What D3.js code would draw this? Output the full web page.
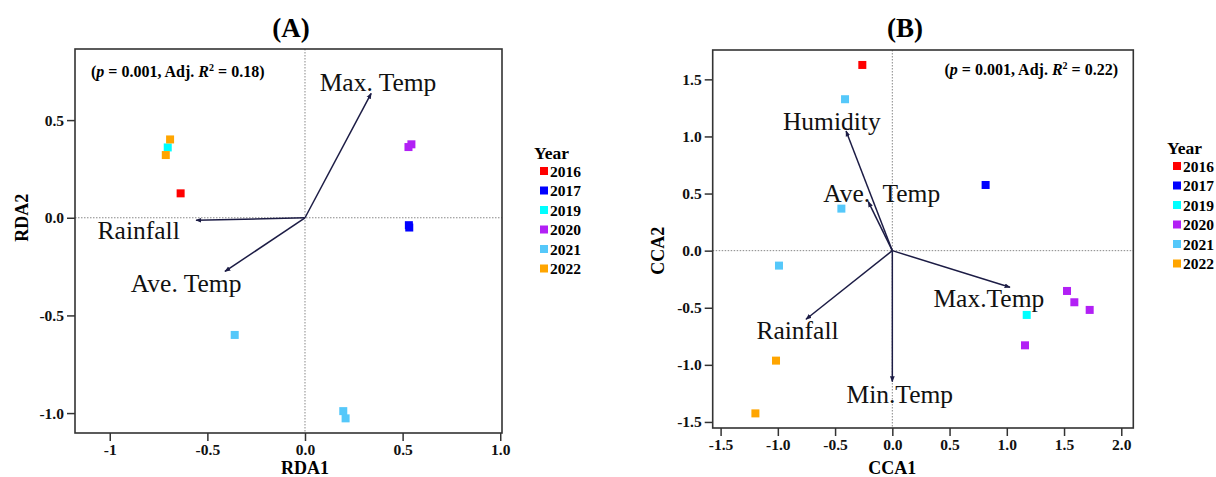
<!DOCTYPE html>
<html>
<head>
<meta charset="utf-8">
<script src="https://cdn.jsdelivr.net/npm/d3@7"></script>
<style>
  body { margin: 0; background: #fff; }
  svg { display: block; font-family: "Liberation Serif", "Times New Roman", serif; }
</style>
</head>
<body>
<svg></svg>
<script>
// ---- data ----
const years = ["2016", "2017", "2019", "2020", "2021", "2022"];
const yearColors = ["#ff0000", "#0000ff", "#00ffff", "#b220f5", "#55c8fa", "#ffa500"];

// (A) RDA site scores
const rdaYear = ["2016", "2017", "2017", "2019", "2020", "2020", "2021", "2021", "2021", "2022", "2022"];
const rdaX = [-0.637, 0.532, 0.534, -0.703, 0.530, 0.545, -0.36, 0.196, 0.208, -0.691, -0.713];
const rdaY = [0.125, -0.038, -0.050, 0.360, 0.362, 0.376, -0.60, -0.990, -1.027, 0.401, 0.321];
// (A) environmental vectors
const rdaVars = ["Max. Temp", "Rainfall", "Ave. Temp"];
const rdaVarX = [0.339, -0.558, -0.41];
const rdaVarY = [0.637, -0.013, -0.275];
const rdaLabX = [0.374, -0.852, -0.609];
const rdaLabY = [0.691, -0.063, -0.336];

// (B) CCA site scores
const ccaYear = ["2016", "2017", "2019", "2020", "2020", "2020", "2020", "2021", "2021", "2021", "2022", "2022"];
const ccaX = [-0.262, 0.815, 1.174, 1.526, 1.590, 1.724, 1.159, -0.413, -0.445, -0.99, -1.016, -1.196];
const ccaY = [1.626, 0.575, -0.563, -0.353, -0.452, -0.519, -0.829, 1.326, 0.368, -0.131, -0.963, -1.425];
// (B) environmental vectors
const ccaVars = ["Humidity", "Ave.\u00a0 Temp", "Max.Temp", "Rainfall", "Min.Temp"];
const ccaVarX = [-0.404, -0.21, 1.028, -0.754, 0];
const ccaVarY = [1.048, 0.429, -0.321, -0.601, -1.147];
const ccaLabX = [-0.529, -0.093, 0.843, -0.828, 0.065];
const ccaLabY = [1.13, 0.503, -0.417, -0.703, -1.264];

// axis ticks
const rdaXTicks = [-1, -0.5, 0, 0.5, 1];
const rdaXLabels = ["-1", "-0.5", "0.0", "0.5", "1.0"];
const rdaYTicks = [0.5, 0, -0.5, -1];
const rdaYLabels = ["0.5", "0.0", "-0.5", "-1.0"];
const ccaXTicks = [-1.5, -1, -0.5, 0, 0.5, 1, 1.5, 2];
const ccaXLabels = ["-1.5", "-1.0", "-0.5", "0.0", "0.5", "1.0", "1.5", "2.0"];
const ccaYTicks = [1.5, 1, 0.5, 0, -0.5, -1, -1.5];
const ccaYLabels = ["1.5", "1.0", "0.5", "0.0", "-0.5", "-1.0", "-1.5"];

const size = { w: 1216, h: 477 };
const svg = d3.select("svg").attr("width", size.w).attr("height", size.h);

const color = d3.scaleOrdinal().domain(years).range(yearColors);

// arrow head
svg.append("defs").append("marker")
  .attr("id", "head")
  .attr("viewBox", "0 0 10 10")
  .attr("refX", 9).attr("refY", 5)
  .attr("markerWidth", 6).attr("markerHeight", 6)
  .attr("markerUnits", "userSpaceOnUse")
  .attr("orient", "auto")
  .append("path")
  .attr("d", "M0,1 L10,5 L0,9 Z")
  .attr("fill", "#1c1c45");

function drawPanel(p) {
  const g = svg.append("g");
  const x = d3.scaleLinear().domain(p.xDomain).range([p.box.l, p.box.r]);
  const y = d3.scaleLinear().domain(p.yDomain).range([p.box.b, p.box.t]);

  // title
  g.append("text")
    .attr("x", p.titleX).attr("y", 28)
    .attr("text-anchor", "middle").attr("dominant-baseline", "central")
    .style("font-size", "27px").style("font-weight", "bold")
    .text(p.title);

  // zero lines
  g.append("line")
    .attr("x1", x(0)).attr("x2", x(0)).attr("y1", p.box.t).attr("y2", p.box.b)
    .attr("stroke", "#888").attr("stroke-width", 1).attr("stroke-dasharray", "1.5,1.5");
  g.append("line")
    .attr("x1", p.box.l).attr("x2", p.box.r).attr("y1", y(0)).attr("y2", y(0))
    .attr("stroke", "#888").attr("stroke-width", 1).attr("stroke-dasharray", "1.5,1.5");

  // axes
  const xAxis = d3.axisBottom(x).tickValues(p.xTicks)
    .tickFormat((d, i) => p.xLabels[i]).tickSize(8).tickPadding(3);
  const yAxis = d3.axisLeft(y).tickValues(p.yTicks)
    .tickFormat((d, i) => p.yLabels[i]).tickSize(8).tickPadding(3);

  const xg = g.append("g").attr("transform", `translate(0,${p.box.b})`).call(xAxis);
  const yg = g.append("g").attr("transform", `translate(${p.box.l},0)`).call(yAxis);
  [xg, yg].forEach((a) => {
    a.select(".domain").remove();
    a.selectAll(".tick line").attr("stroke", "#333").attr("stroke-width", 1.5);
    a.selectAll(".tick text")
      .attr("fill", "#111")
      .style("font-family", "Liberation Serif, serif")
      .style("font-size", "15.5px").style("font-weight", "bold");
  });

  // frame
  g.append("rect")
    .attr("x", p.box.l).attr("y", p.box.t)
    .attr("width", p.box.r - p.box.l).attr("height", p.box.b - p.box.t)
    .attr("fill", "none").attr("stroke", "#333").attr("stroke-width", 1.6);

  // axis titles
  g.append("text")
    .attr("x", x(0)).attr("y", 468)
    .attr("text-anchor", "middle").attr("dominant-baseline", "central")
    .style("font-size", "18px").style("font-weight", "bold")
    .text(p.xTitle);
  g.append("text")
    .attr("transform", `translate(${p.yTitleX},${y(0)}) rotate(-90)`)
    .attr("text-anchor", "middle").attr("dominant-baseline", "central")
    .style("font-size", "18px").style("font-weight", "bold")
    .text(p.yTitle);

  // statistics note
  const note = g.append("text")
    .attr("x", p.noteX).attr("y", p.noteY)
    .attr("text-anchor", p.noteAnchor).attr("dominant-baseline", "central")
    .style("font-size", "16px").style("font-weight", "bold");
  note.append("tspan").text("(");
  note.append("tspan").style("font-style", "italic").text("p");
  note.append("tspan").text(" = 0.001, Adj. ");
  note.append("tspan").style("font-style", "italic").text("R");
  note.append("tspan").style("font-size", "10px").attr("dy", -4).text("2");
  note.append("tspan").attr("dy", 4).text(" = " + p.r2 + ")");

  // site points
  g.append("g").selectAll("rect")
    .data(p.sx.map((v, i) => ({ x: v, y: p.sy[i], year: p.year[i] })))
    .join("rect")
    .attr("x", (d) => x(d.x) - 4).attr("y", (d) => y(d.y) - 4)
    .attr("width", 8).attr("height", 8)
    .attr("fill", (d) => color(d.year));

  // vectors
  const vec = p.vars.map((v, i) => ({ name: v, x: p.vx[i], y: p.vy[i], lx: p.lx[i], ly: p.ly[i] }));
  g.append("g").selectAll("line")
    .data(vec)
    .join("line")
    .attr("x1", x(0)).attr("y1", y(0))
    .attr("x2", (d) => x(d.x)).attr("y2", (d) => y(d.y))
    .attr("stroke", "#1c1c45").attr("stroke-width", 1.5)
    .attr("marker-end", "url(#head)");
  g.append("g").selectAll("text")
    .data(vec)
    .join("text")
    .attr("x", (d) => x(d.lx)).attr("y", (d) => y(d.ly))
    .attr("text-anchor", "middle").attr("dominant-baseline", "central")
    .style("font-size", "25.5px").attr("fill", "#111")
    .text((d) => d.name);

  // legend
  const lg = g.append("g").attr("transform", `translate(${p.legX},${p.legY})`);
  lg.append("text")
    .attr("x", 0).attr("y", 0).attr("dominant-baseline", "central")
    .style("font-size", "17.5px").style("font-weight", "bold")
    .text("Year");
  const item = lg.selectAll("g.item")
    .data(years)
    .join("g").classed("item", true)
    .attr("transform", (d, i) => `translate(0,${18 + i * 19.5})`);
  item.append("rect")
    .attr("x", 6).attr("y", -4).attr("width", 8).attr("height", 8)
    .attr("fill", (d) => color(d));
  item.append("text")
    .attr("x", 16).attr("y", 0).attr("dominant-baseline", "central")
    .style("font-size", "15.5px").style("font-weight", "bold")
    .text((d) => d);
}

drawPanel({
  title: "(A)", titleX: 291,
  box: { l: 75, r: 502, t: 49, b: 433 },
  xDomain: [-1.178, 1.009], yDomain: [-1.102, 0.864],
  xTicks: rdaXTicks, xLabels: rdaXLabels, yTicks: rdaYTicks, yLabels: rdaYLabels,
  xTitle: "RDA1", yTitle: "RDA2", yTitleX: 22,
  noteX: 91, noteY: 71, noteAnchor: "start", r2: "0.18",
  year: rdaYear, sx: rdaX, sy: rdaY,
  vars: rdaVars, vx: rdaVarX, vy: rdaVarY, lx: rdaLabX, ly: rdaLabY,
  legX: 534, legY: 153
});

drawPanel({
  title: "(B)", titleX: 905,
  box: { l: 712.7, r: 1133.3, t: 50, b: 428 },
  xDomain: [-1.569, 2.105], yDomain: [-1.553, 1.757],
  xTicks: ccaXTicks, xLabels: ccaXLabels, yTicks: ccaYTicks, yLabels: ccaYLabels,
  xTitle: "CCA1", yTitle: "CCA2", yTitleX: 658,
  noteX: 1118, noteY: 69, noteAnchor: "end", r2: "0.22",
  year: ccaYear, sx: ccaX, sy: ccaY,
  vars: ccaVars, vx: ccaVarX, vy: ccaVarY, lx: ccaLabX, ly: ccaLabY,
  legX: 1167, legY: 148
});
</script>
</body>
</html>
